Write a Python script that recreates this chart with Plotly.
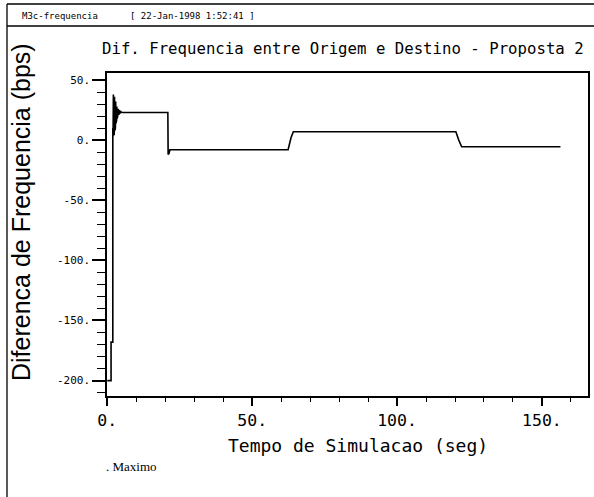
import plotly.graph_objects as go

# ---- data ----
tempo = [0.0, 1.3, 1.3, 1.9, 1.9, 2.0, 2.1, 2.2, 2.3, 2.4, 2.5, 2.6, 2.7, 2.8, 2.9,
         3.0, 3.1, 3.2, 3.3, 3.4, 3.5, 3.6, 3.8, 4.0, 4.2, 4.4, 4.6, 4.8, 5.0,
         20.9, 21.0, 21.3, 21.6, 62.4, 63.4, 64.2, 120.3, 121.3, 122.3, 156.4]
dif_freq = [-200, -200, -168, -168, 10, 3, 38, 5, 37, 4, 36, 8, 34, 10, 32,
            14, 30, 16, 28, 18, 27, 20, 26, 21, 25, 22, 24, 23, 23,
            23, -12, -11, -8, -8, 2, 7, 7, 0, -5.5, -5.5]

x_ticks = [0, 50, 100, 150]
x_ticklabels = ["0.", "50.", "100.", "150."]
y_ticks = [-200, -150, -100, -50, 0, 50]
y_ticklabels = ["-200.", "-150.", "-100.", "-50.", "0.", "50."]

titulo = "Dif. Frequencia entre Origem e Destino - Proposta 2"
x_titulo = "Tempo de Simulacao (seg)"
y_titulo = "Diferenca de Frequencia (bps)"
cabecalho_nome = "M3c-frequencia"
cabecalho_data = "[ 22-Jan-1998 1:52:41 ]"
rodape = ". Maximo"

# ---- layout geometry (pixels) ----
W, H = 594, 497
L, R, T, B = 107, 588, 73, 396
MONO = "DejaVu Sans Mono"


def px(x):
    return (x - L) / (R - L)


def py(y):
    return (B - y) / (B - T)


fig = go.Figure()
fig.add_trace(go.Scatter(x=tempo, y=dif_freq, mode="lines",
                         line=dict(color="black", width=1.6),
                         showlegend=False, hoverinfo="skip"))

axis_common = dict(showgrid=False, zeroline=False, showline=True, linecolor="black",
                   linewidth=1.5, mirror=True, ticks="outside", tickcolor="black",
                   tickmode="array", automargin=False)

fig.update_xaxes(**axis_common, range=[-0.1, 165.9], tickvals=x_ticks,
                 ticktext=x_ticklabels, ticklen=8, tickwidth=2,
                 tickfont=dict(family=MONO, size=16.5, color="black"),
                 minor=dict(dtick=10, tick0=0, ticklen=4, tickwidth=1,
                            ticks="outside", tickcolor="black"))
fig.update_yaxes(**axis_common, range=[-212.8, 55.8], tickvals=y_ticks,
                 ticktext=y_ticklabels, ticklen=13, tickwidth=2,
                 tickfont=dict(family=MONO, size=11, color="black"),
                 minor=dict(dtick=10, tick0=0, ticklen=8, tickwidth=1,
                            ticks="outside", tickcolor="black"))

annotations = [
    dict(text=titulo, x=px(343), y=py(48), font=dict(family=MONO, size=15.7)),
    dict(text=x_titulo, x=px(358), y=py(445), font=dict(family=MONO, size=18)),
    dict(text=y_titulo, x=px(21), y=py(212), textangle=-90,
         font=dict(family="Liberation Sans", size=25)),
    dict(text=cabecalho_nome, x=px(20), y=py(16), xanchor="left",
         font=dict(family=MONO, size=9)),
    dict(text=cabecalho_data, x=px(128), y=py(16), xanchor="left",
         font=dict(family=MONO, size=9)),
    dict(text=rodape, x=px(104), y=py(466), xanchor="left",
         font=dict(family="Liberation Serif", size=13)),
]
for a in annotations:
    a.update(xref="paper", yref="paper", showarrow=False,
             yanchor=a.get("yanchor", "middle"), xanchor=a.get("xanchor", "center"))
    a["font"]["color"] = "black"

shapes = [
    dict(type="line", x0=px(7), x1=px(594), y0=py(4), y1=py(4)),
    dict(type="line", x0=px(7), x1=px(594), y0=py(26), y1=py(26)),
    dict(type="line", x0=px(7), x1=px(7), y0=py(4), y1=py(497)),
]
for s in shapes:
    s.update(xref="paper", yref="paper", line=dict(color="black", width=1.3))

fig.update_layout(width=W, height=H, autosize=False,
                  margin=dict(l=L, r=W - R, t=T, b=H - B, pad=0),
                  paper_bgcolor="white", plot_bgcolor="white",
                  annotations=annotations, shapes=shapes)

fig.write_html("out.html", config={"displayModeBar": False},
               post_script="document.body.style.margin='0px';"
                           "document.body.style.overflow='hidden';")
